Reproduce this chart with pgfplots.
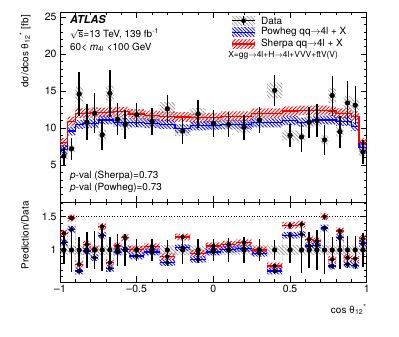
\documentclass[border=0pt]{standalone}
\usepackage{fontspec}
\setmainfont{TeX Gyre Heros}
\usepackage{pgfplots}
\usepackage{pgfplotstable}
\pgfplotsset{compat=1.18}
\usepgfplotslibrary{fillbetween}
\usetikzlibrary{patterns.meta}

% step table: lower bin edge, data, data syst, Sherpa, Powheg, ratios
\pgfplotstableread{
xlo    d     ds    r     b     rr     rb
-1.00  6.2   0.45  8.0   7.1   1.25   1.11
-0.95  7.2   0.50  10.9  9.6   1.48   1.31
-0.90  14.6  1.00  12.0  10.5  0.785  0.685
-0.85  10.8  0.75  12.0  10.6  1.085  0.985
-0.80  12.0  0.85  12.1  10.6  1.01   0.885
-0.75  9.1   0.65  12.1  11.1  1.35   1.22
-0.70  14.7  1.00  12.1  11.1  0.81   0.72
-0.65  11.2  0.80  12.2  10.8  1.06   0.97
-0.60  10.5  0.75  12.2  10.8  1.185  1.01
-0.55  11.8  0.80  11.9  10.7  1.01   0.91
-0.45  10.9  0.75  11.7  10.6  1.05   0.97
-0.35  12.6  0.90  11.6  10.5  0.90   0.81
-0.25  9.6   0.70  11.5  9.9   1.195  1.035
-0.15  11.9  0.80  11.4  10.3  0.95   0.86
-0.05  10.6  0.75  11.4  10.4  1.06   0.97
0.05   10.5  0.75  11.6  10.5  1.085  1.01
0.15   10.1  0.70  11.6  10.45 1.11   1.02
0.25   11.1  0.80  12.0  10.7  1.00   0.95
0.35   15.1  1.05  12.0  10.7  0.76   0.685
0.45   9.0   0.65  12.3  11.0  1.37   1.22
0.55   8.8   0.60  12.4  10.8  1.385  1.235
0.60   10.8  0.75  12.4  10.9  1.16   1.06
0.65   11.0  0.80  12.4  11.1  1.135  1.07
0.70   8.4   0.60  12.4  11.1  1.50   1.33
0.75   14.4  1.00  12.3  11.1  0.86   0.76
0.80   9.5   0.65  12.0  10.9  1.285  1.185
0.85   13.4  0.95  12.0  10.9  0.885  0.785
0.90   13.1  0.90  11.6  10.2  0.87   0.77
0.95   6.75  0.50  8.0   7.4   1.17   1.10
1.00   6.75  0.50  8.0   7.4   1.17   1.10
}\steps

% bin centres for points
\pgfplotstableread{
x      hw     d     de   rde   rr     rb
-0.975 0.025  6.2   1.2  0.21  1.25   1.11
-0.925 0.025  7.2   1.5  0.33  1.48   1.31
-0.875 0.025  14.6  3.0  0.20  0.785  0.685
-0.825 0.025  10.8  2.4  0.27  1.085  0.985
-0.775 0.025  12.0  2.7  0.28  1.01   0.885
-0.725 0.025  9.1   2.0  0.32  1.35   1.22
-0.675 0.025  14.7  3.2  0.20  0.81   0.72
-0.625 0.025  11.2  2.2  0.24  1.06   0.97
-0.575 0.025  10.5  2.0  0.24  1.185  1.01
-0.5   0.05   11.8  1.6  0.17  1.01   0.91
-0.4   0.05   10.9  1.8  0.16  1.05   0.97
-0.3   0.05   12.6  1.9  0.15  0.90   0.81
-0.2   0.05   9.6   1.7  0.21  1.195  1.035
-0.1   0.05   11.9  1.9  0.16  0.95   0.86
0      0.05   10.6  1.8  0.17  1.06   0.97
0.1    0.05   10.5  1.7  0.18  1.085  1.01
0.2    0.05   10.1  1.7  0.20  1.11   1.02
0.3    0.05   11.1  1.8  0.17  1.00   0.95
0.4    0.05   15.1  2.1  0.15  0.76   0.685
0.5    0.05   9.0   1.6  0.20  1.37   1.22
0.575  0.025  8.8   2.0  0.35  1.385  1.235
0.625  0.025  10.8  2.1  0.27  1.16   1.06
0.675  0.025  11.0  2.2  0.30  1.135  1.07
0.725  0.025  8.4   2.0  0.36  1.50   1.33
0.775  0.025  14.4  2.7  0.19  0.86   0.76
0.825  0.025  9.5   2.2  0.29  1.285  1.185
0.875  0.025  13.4  3.0  0.21  0.885  0.785
0.925  0.025  13.1  2.6  0.21  0.87   0.77
0.975  0.025  6.75  1.6  0.25  1.17   1.10
}\bins

\tikzset{
  redhatch/.style={pattern={Lines[angle=45,distance=2.6pt,line width=0.8pt]}, pattern color=red},
  bluehatch/.style={pattern={Lines[angle=-45,distance=2.4pt,line width=0.8pt]}, pattern color=blue},
  grayhatch/.style={pattern={Lines[angle=-45,distance=2.6pt,line width=0.7pt]}, pattern color=black!40},
}
\pgfplotsset{
  atl/.style={
    scale only axis, width=306.7bp,
    xmin=-1, xmax=1,
    xtick={-1,-0.5,0,0.5,1}, minor x tick num=4,
    tick align=inside, xtick pos=both, ytick pos=both,
    major tick length=6bp, minor tick length=3bp,
    axis line style={line width=0.6pt},
    every tick/.style={black, line width=0.6pt},
    tick label style={font=\fontsize{10.5}{12}\selectfont},
    /pgf/number format/assume math mode=true,
    clip=false,
  },
}

\begin{document}
\begin{tikzpicture}[font=\fontsize{10}{12}\selectfont]

% ratio panel
\begin{axis}[atl, at={(0,0)}, height=80bp,
  ymin=0.52, ymax=1.72, ytick={1,1.5},
  minor ytick={0.6,0.7,0.8,0.9,1.1,1.2,1.3,1.4,1.6,1.7},
  xticklabels={–1,–0.5,0,0.5,1}]
\addplot[name path=gu, const plot, draw=none, forget plot] table[x=xlo, y expr=1+\thisrow{ds}/\thisrow{d}] {\steps};
\addplot[name path=gl, const plot, draw=none, forget plot] table[x=xlo, y expr=1-\thisrow{ds}/\thisrow{d}] {\steps};
\addplot[grayhatch, forget plot] fill between[of=gu and gl];
\addplot[name path=ru, const plot, draw=none, forget plot] table[x=xlo, y expr=\thisrow{rr}+0.05] {\steps};
\addplot[name path=rl, const plot, draw=none, forget plot] table[x=xlo, y expr=\thisrow{rr}-0.05] {\steps};
\addplot[redhatch, forget plot] fill between[of=ru and rl];
\addplot[name path=bu, const plot, draw=none, forget plot] table[x=xlo, y expr=\thisrow{rb}+0.05] {\steps};
\addplot[name path=bl, const plot, draw=none, forget plot] table[x=xlo, y expr=\thisrow{rb}-0.05] {\steps};
\addplot[bluehatch, forget plot] fill between[of=bu and bl];
\addplot[black, dotted, line width=0.6pt, forget plot] coordinates {(-1,1.5) (1,1.5)};
\addplot[only marks, mark=none, forget plot,
  error bars/.cd, x dir=both, x explicit, y dir=both, y explicit, error mark=none,
  error bar style={blue, line width=1.1pt}]
  table[x=x, y=rb, x error=hw, y error expr=0.05] {\bins};
\addplot[only marks, mark=none, forget plot,
  error bars/.cd, x dir=both, x explicit, y dir=both, y explicit, error mark=none,
  error bar style={red, line width=1.1pt}]
  table[x=x, y=rr, x error=hw, y error expr=0.05] {\bins};
\addplot[only marks, mark=*, mark size=2.4bp, black, forget plot,
  error bars/.cd, y dir=both, y explicit, error mark=none,
  error bar style={line width=1.4pt}]
  table[x=x, y expr=1, y error=rde] {\bins};
\end{axis}

% main panel
\begin{axis}[atl, at={(0,80bp)}, height=190bp,
  ymin=0, ymax=25.7, ytick={5,10,15,20,25}, minor ytick={1,2,...,25},
  xticklabels={}]
\addplot[name path=ru, const plot, draw=none, forget plot] table[x=xlo, y expr=\thisrow{r}+0.65] {\steps};
\addplot[name path=rl, const plot, draw=none, forget plot] table[x=xlo, y expr=\thisrow{r}-0.65] {\steps};
\addplot[redhatch, forget plot] fill between[of=ru and rl];
\addplot[name path=bu, const plot, draw=none, forget plot] table[x=xlo, y expr=\thisrow{b}+0.6] {\steps};
\addplot[name path=bl, const plot, draw=none, forget plot] table[x=xlo, y expr=\thisrow{b}-0.6] {\steps};
\addplot[bluehatch, forget plot] fill between[of=bu and bl];
\addplot[name path=gu, const plot, draw=none, forget plot] table[x=xlo, y expr=\thisrow{d}+\thisrow{ds}] {\steps};
\addplot[name path=gl, const plot, draw=none, forget plot] table[x=xlo, y expr=\thisrow{d}-\thisrow{ds}] {\steps};
\addplot[grayhatch, forget plot] fill between[of=gu and gl];
\addplot[const plot, blue, line width=1.2pt, forget plot] table[x=xlo, y=b] {\steps};
\addplot[const plot, red, line width=1.2pt, forget plot] table[x=xlo, y=r] {\steps};
\addplot[only marks, mark=*, mark size=2.4bp, black, forget plot,
  error bars/.cd, y dir=both, y explicit, error mark=none,
  error bar style={line width=1.4pt}]
  table[x=x, y=d, y error=de] {\bins};

% legend keys and entries
\path[grayhatch] (axis description cs:0.561,0.930) rectangle (axis description cs:0.636,0.978);
\draw[line width=1.2pt] (axis description cs:0.561,0.954) -- (axis description cs:0.636,0.954);
\draw[line width=1.2pt] (axis description cs:0.5985,0.930) -- (axis description cs:0.5985,0.978);
\fill (axis description cs:0.5985,0.954) circle (2.4bp);
\node[anchor=west, inner sep=0pt] at (axis description cs:0.655,0.954) {Data};
\path[bluehatch] (axis description cs:0.561,0.869) rectangle (axis description cs:0.636,0.917);
\draw[blue, line width=1.2pt] (axis description cs:0.561,0.893) -- (axis description cs:0.636,0.893);
\node[anchor=west, inner sep=0pt] at (axis description cs:0.655,0.893) {Powheg qq$\rightarrow$4l + X};
\path[redhatch] (axis description cs:0.561,0.808) rectangle (axis description cs:0.636,0.856);
\draw[red, line width=1.2pt] (axis description cs:0.561,0.832) -- (axis description cs:0.636,0.832);
\node[anchor=west, inner sep=0pt] at (axis description cs:0.655,0.832) {Sherpa qq$\rightarrow$4l + X};
\node[anchor=west, inner sep=0pt, font=\fontsize{8.5}{10}\selectfont]
  at (axis description cs:0.548,0.770)
  {X=gg$\rightarrow$4l+H$\rightarrow$4l+VVV+t\={t}V(V)};

\node[anchor=west, inner sep=0pt, font=\fontsize{11}{12}\selectfont\bfseries\itshape]
  at (axis description cs:0.0326,0.962) {ATLAS};
\node[anchor=west, inner sep=0pt] at (axis description cs:0.0326,0.883)
  {$\sqrt{\mbox{s}}$=13 TeV, 139 fb\textsuperscript{-1}};
\node[anchor=west, inner sep=0pt] at (axis description cs:0.0326,0.815)
  {60< \textit{m}\textsubscript{4l} <100 GeV};
\node[anchor=west, inner sep=0pt] at (axis description cs:0.0326,0.137)
  {\textit{p}-val (Sherpa)=0.73};
\node[anchor=west, inner sep=0pt] at (axis description cs:0.0326,0.072)
  {\textit{p}-val (Powheg)=0.73};
\end{axis}

\node[rotate=90, anchor=east, inner sep=0pt] at (-35bp,267bp)
  {dσ/dcos θ\textsubscript{12}\textsuperscript{*} [fb]};
\node[rotate=90, anchor=east, inner sep=0pt] at (-35bp,81bp) {Prediction/Data};
\node[anchor=base east, inner sep=0pt] at (306.7bp,-31bp)
  {cos θ\textsubscript{12}\textsuperscript{*}};
% page frame matching the reference canvas
\path (-60bp,-55bp) rectangle (339bp,282bp);
\end{tikzpicture}
\end{document}
